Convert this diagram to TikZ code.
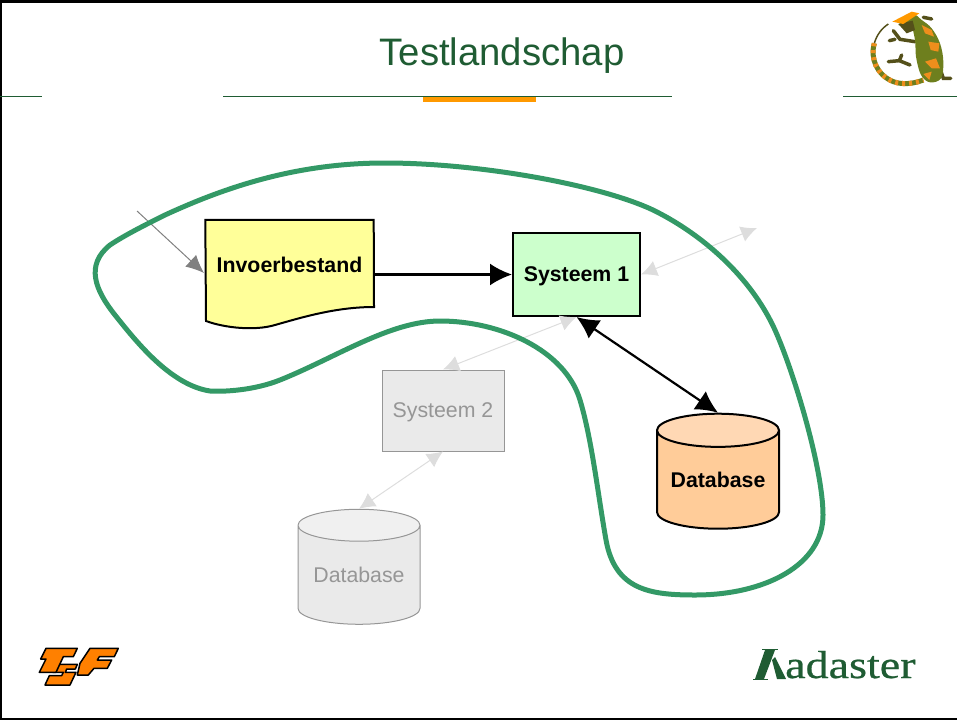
\documentclass[tikz,border=0pt]{standalone}
\usepackage{fontspec}
\setmainfont{Liberation Sans}
\newfontfamily\logofont[FakeStretch=1.18,FakeBold=0.6]{Liberation Serif}
\usetikzlibrary{arrows.meta}
\usetikzlibrary{shapes.geometric}
\definecolor{titlegreen}{HTML}{1F5C33}
\definecolor{blobgreen}{HTML}{339966}
\definecolor{barorange}{HTML}{FF9900}
\definecolor{logoorange}{HTML}{FF8000}
\definecolor{fadefill}{HTML}{EAEAEA}
\definecolor{fadeend}{HTML}{F0F0F0}
\definecolor{fadeline}{HTML}{969696}
\definecolor{fadetip}{HTML}{DDDDDD}
\definecolor{sysgreen}{HTML}{CCFFCC}
\definecolor{fileyellow}{HTML}{FFFF99}
\definecolor{dbbody}{HTML}{FFCC99}
\definecolor{dbend}{HTML}{FFD8B4}
\definecolor{skinolive}{HTML}{6E7F1E}
\definecolor{skinorange}{HTML}{EE8E1C}
\definecolor{skinbrown}{HTML}{54501A}
\tikzset{>={Latex[width=22pt,length=22pt]}}
\tikzset{
  sysbox/.style={draw=black, line width=2pt, font=\bfseries\fontsize{21.3}{24}\selectfont, text depth=0pt, align=center, inner sep=0pt},
  fadebox/.style={draw=fadeline, line width=1pt, fill=fadefill, text=fadeline, font=\fontsize{21.3}{24}\selectfont, text depth=0pt, inner sep=0pt},
  dbase/.style={cylinder, shape border rotate=90, cylinder uses custom fill, minimum width=122pt, minimum height=115pt, aspect=0.35, inner sep=0pt, text depth=0pt},
  mainarrow/.style={<->, line width=2.2pt, black},
  fadelink/.style={<->, >={Latex[width=16pt,length=16pt]}, line width=1pt, fadetip},
  tsfpart/.style={draw=black, line width=1.5pt, fill=logoorange, line join=round},
  limb/.style={line width=3.5pt, skinbrown, line cap=round},
}
\begin{document}
\begin{tikzpicture}[x=1pt,y=-1pt]
    \useasboundingbox (0,0) rectangle (957,720);
    % frame and header
    \draw[line width=3pt] (0,1.5) -- (957,1.5);
    \draw[line width=2pt] (1,0) -- (1,720);
    \draw[line width=2pt] (0,719) -- (957,719);
    \draw[titlegreen, line width=1pt] (0,96) -- (42,96);
    \draw[titlegreen, line width=1pt] (223,96) -- (672,96);
    \draw[titlegreen, line width=1pt] (843,96) -- (957,96);
    \fill[barorange] (423,97) rectangle (536,102);
    \node[titlegreen, font=\fontsize{38.3}{44}\selectfont, text depth=0pt] (title) at (502,52) {Testlandschap};

    % chameleon
    \begin{scope}[shift={(860,0)}, x=0.3333pt, y=-0.3333pt]
      \draw[line width=1.5pt, skinbrown] (85,72) .. controls (65,85) and (50,105) .. (43,130);
      \draw[line width=5pt, skinolive] (43,130) .. controls (30,175) and (50,225) .. (100,245) .. controls (130,256) and (165,250) .. (190,240);
      \draw[line width=5pt, skinorange, dash pattern=on 3pt off 4pt] (43,130) .. controls (30,175) and (50,225) .. (100,245) .. controls (130,256) and (165,250) .. (190,240);
      \draw[limb] (165,125) -- (120,118) -- (100,92);
      \draw[limb] (105,118) -- (88,122);
      \draw[limb] (150,195) -- (118,182) -- (85,185);
      \draw[limb] (118,182) -- (125,165);
      \draw[limb] (240,205) -- (250,235) -- (272,235);
      \draw[limb] (190,52) -- (215,57);
      \fill[skinolive] plot[smooth cycle, tension=0.6] coordinates {(115,75) (150,72) (165,120) (168,170) (183,225) (210,247) (243,235) (250,185) (240,130) (215,85) (185,60) (160,45)};
      \fill[skinorange] (185,75) -- (215,90) -- (222,110) -- (195,100) -- cycle;
      \fill[skinorange] (205,125) -- (238,130) -- (235,155) -- (212,150) -- cycle;
      \fill[skinorange] (195,185) -- (228,175) -- (240,205) -- (215,205) -- cycle;
      \fill[skinorange] (190,222) -- (215,215) -- (208,240) -- cycle;
      \fill[skinbrown] (115,72) -- (158,62) -- (165,90) -- (140,100) -- cycle;
      \fill[orange!80!yellow] (97,65) -- (155,35) -- (178,40) -- (130,72) -- cycle;
    \end{scope}

    % diagram
    \node[fadebox, minimum width=122pt, minimum height=81pt] (sys2) at (443,410.5) {Systeem 2};
    \node[dbase, draw=fadeline, line width=1pt, cylinder body fill=fadefill, cylinder end fill=fadeend, text=fadeline, font=\fontsize{21.3}{24}\selectfont] (db2) at (359,575) {Database};
    \node[sysbox, fill=sysgreen, minimum width=127pt, minimum height=83pt] (sys1) at (576.5,274.5) {Systeem 1};
    \node[dbase, draw=black, line width=2pt, cylinder body fill=dbbody, cylinder end fill=dbend, font=\bfseries\fontsize{21.3}{24}\selectfont] (db1) at (718,480) {Database};

    % input file, the lower edge is a wave
    \node[minimum width=168pt, minimum height=88pt, inner sep=0pt] (file) at (289.5,264) {};
    \draw[line width=2pt, black, fill=fileyellow] (file.north west) -- (file.north east) -- (374,307) .. controls (335,307) and (300,318) .. (275,325) .. controls (255,331) and (225,328) .. (206,321) -- cycle;
    \node[font=\bfseries\fontsize{21.3}{24}\selectfont, text depth=0pt, yshift=-1pt] (filetext) at (file.center) {Invoerbestand};

    \coordinate (feed) at (137,211);
    \coordinate (feedend) at (204,273);
    \coordinate (out) at (757,228);
    \draw[->, >={Latex[width=16pt,length=18pt]}, gray, line width=1pt] (feed) -- (feedend);
    \draw[fadelink] (sys1.east) -- (out);
    \draw[fadelink] (sys1.south) -- (sys2.north);
    \draw[fadelink] (sys2.south) -- (db2.north);
    \draw[mainarrow, -{Latex[width=22pt,length=22pt]}] (file.east |- sys1.west) -- (sys1.west);
    \draw[mainarrow] (sys1.south) -- (db1.north);

    % scope of the test
    \draw[blobgreen, line width=5pt] (385,163) .. controls (480,163) and (600,185) .. (653,210)
      .. controls (700,233) and (750,275) .. (775,330)
      .. controls (795,375) and (823,470) .. (823,515)
      .. controls (823,565) and (765,595) .. (695,595)
      .. controls (650,595) and (615,590) .. (606,540)
      .. controls (598,495) and (592,440) .. (580,400)
      .. controls (565,350) and (500,321) .. (440,321)
      .. controls (390,321) and (335,358) .. (280,380)
      .. controls (255,390) and (225,392) .. (210,391)
      .. controls (170,385) and (135,340) .. (115,315)
      .. controls (95,290) and (85,265) .. (110,245)
      .. controls (125,235) and (145,225) .. (165,215)
      .. controls (230,185) and (300,163) .. (385,163) -- cycle;

    % logos
    \begin{scope}[shift={(20,635)}, x=0.3333pt, y=-0.3333pt]
      \draw[tsfpart] (112,88) -- (172,88) -- (166,102) -- (140,102) -- (136,112) -- (168,112) -- (150,150) -- (75,150) -- (88,122) -- (125,122) -- (130,112) -- (98,112) -- cycle;
      \draw[tsfpart] (78,40) -- (172,40) -- (160,65) -- (130,65) -- (108,112) -- (58,112) -- (78,72) -- (62,72) -- cycle;
      \draw[tsfpart] (210,40) -- (295,40) -- (283,65) -- (238,65) -- (232,75) -- (275,75) -- (262,100) -- (222,100) -- (205,120) -- (172,120) -- (180,85) -- cycle;
    \end{scope}
    \node[titlegreen, font=\logofont\fontsize{39}{42}\selectfont, inner sep=0pt, anchor=base west] (kadaster) at (785,678) {adaster};
    \fill[titlegreen] (765,650) -- (775,650) -- (764,679) -- (755,679) -- cycle;
    \fill[titlegreen] (772,660) -- (775,657) -- (786,679) -- (777,679) -- cycle;
    \draw[titlegreen, line width=0.7pt] (762,649.5) -- (778,649.5);
    \draw[titlegreen, line width=0.7pt] (753,679) -- (768,679);
  \end{tikzpicture}
\end{document}
